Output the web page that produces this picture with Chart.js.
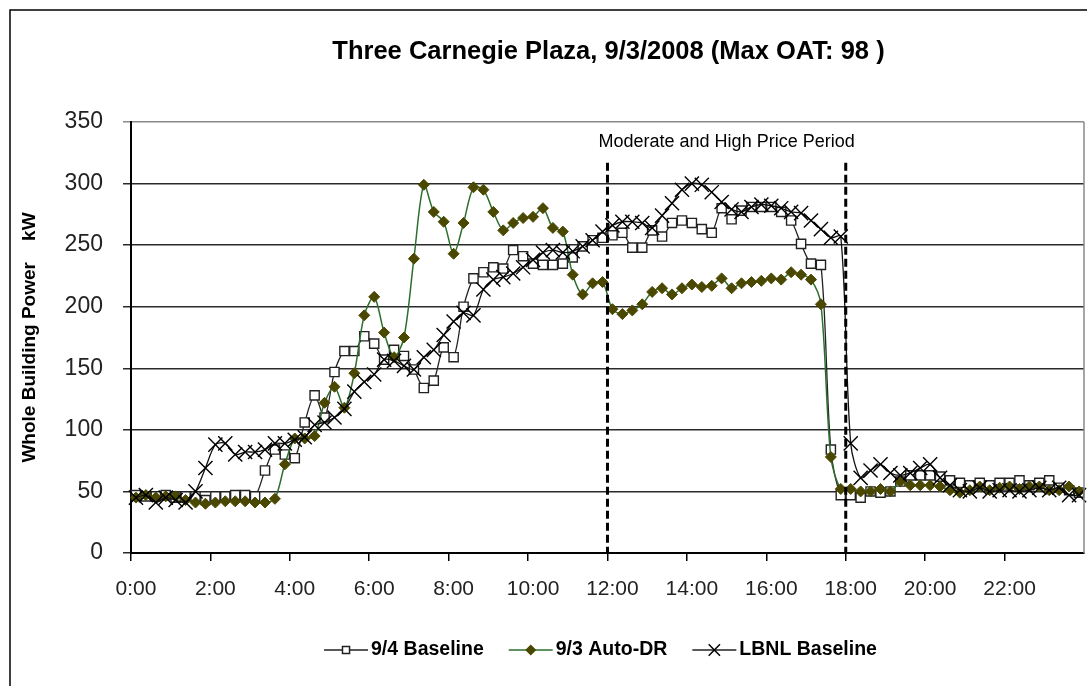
<!DOCTYPE html>
<html>
<head>
<meta charset="utf-8">
<script src="https://cdn.jsdelivr.net/npm/chart.js@4.4.1/dist/chart.umd.min.js"></script>
<style>
    html, body { margin: 0; padding: 0; background: #fff; }
    #wrap { position: relative; width: 1087px; height: 686px; }
</style>
</head>
<body>
<div id="wrap"><canvas id="powerChart"></canvas></div>
<script>
// 15-minute intervals, 0:00 .. 23:45
const timeLabels = [];
for (let h = 0; h < 24; h++) {
    for (let m = 0; m < 60; m += 15) {
        timeLabels.push(h + ':' + (m === 0 ? '00' : m));
    }
}

const baseline94 = [
    47, 46, 46, 47, 45, 46, 46, 43,
    46, 46, 47, 47, 46, 67, 84, 80,
    77, 106, 128, 110, 147, 164, 164, 176,
    170, 157, 165, 160, 149, 134, 140, 167,
    159, 200, 223, 228, 232, 231, 246, 241,
    235, 234, 234, 235, 240, 249, 254, 256,
    258, 260, 248, 248, 262, 257, 268, 270,
    268, 263, 260, 280, 271, 278, 281, 281,
    281, 277, 270, 251, 235, 234, 84, 47,
    47, 45, 50, 49, 50, 58, 63, 63,
    63, 62, 59, 57, 55, 57, 55, 57,
    57, 59, 55, 57, 59, 53, 51, 49
];

const autoDR93 = [
    45, 47, 45, 46, 46, 43, 41, 40,
    41, 42, 42, 42, 41, 41, 44, 72,
    93, 93, 95, 122, 135, 118, 146, 193,
    208, 179, 159, 175, 239, 299, 277, 269,
    243, 268, 297, 295, 277, 262, 268, 272,
    273, 280, 264, 261, 226, 210, 219, 220,
    198, 194, 197, 202, 212, 215, 210, 215,
    218, 216, 217, 223, 215, 219, 220, 221,
    223, 222, 228, 226, 222, 202, 78, 52,
    52, 50, 50, 52, 50, 58, 55, 55,
    55, 54, 51, 49, 51, 54, 51, 53,
    54, 52, 54, 54, 51, 51, 54, 50
];

const lbnlBaseline = [
    45, 47, 41, 45, 43, 41, 50, 69,
    88, 89, 80, 82, 82, 84, 89, 89,
    92, 94, 104, 106, 110, 117, 131, 139,
    145, 157, 156, 152, 149, 159, 165, 177,
    188, 195, 193, 214, 222, 224, 227, 232,
    238, 244, 246, 244, 245, 249, 254, 261,
    266, 269, 269, 268, 264, 274, 284, 295,
    300, 299, 293, 285, 279, 277, 281, 283,
    282, 280, 277, 276, 270, 263, 256, 257,
    89, 61, 67, 72, 65, 63, 65, 69,
    72, 61, 55, 51, 50, 53, 50, 51,
    51, 50, 51, 53, 51, 53, 47, 47
];

const yTicks = [0, 50, 100, 150, 200, 250, 300, 350];
const priceWindow = ['12:00', '18:00'];   // moderate & high price period
const priceLineTop = 317;                 // kW where dashed lines start
const priceTextAt = 334;                  // kW for the label

const FONT = 'Arial, "Liberation Sans", Helvetica, sans-serif';
Chart.defaults.font.family = FONT;

// the x labels in the original are a narrow face; use one if present
function hasNarrow() {
    const c = document.createElement('canvas').getContext('2d');
    c.font = '40px "Liberation Sans Narrow", monospace';
    const a = c.measureText('12:00 Baseline').width;
    c.font = '40px monospace';
    return a !== c.measureText('12:00 Baseline').width;
}
const xFont = hasNarrow()
    ? { family: '"Liberation Sans Narrow", ' + FONT, size: 24 }
    : { family: FONT, size: 21 };

const legendItems = [
    { text: '9/4 Baseline', line: '#222', style: 'rect', radius: 5, fill: '#fff', stroke: '#222' },
    { text: '9/3 Auto-DR', line: '#2d6e2d', style: 'rectRot', radius: 4.5, fill: '#4a4800', stroke: '#4a4800' },
    { text: 'LBNL Baseline', line: '#222', style: 'crossRot', radius: 8, fill: '#000', stroke: '#000' }
];

const extrasPlugin = {
    id: 'extras',
    beforeDraw(chart) {
        const ctx = chart.ctx;
        ctx.save();
        ctx.strokeStyle = '#000';
        ctx.lineWidth = 1.5;
        ctx.strokeRect(10, 10, chart.width + 50, chart.height + 50);
        ctx.restore();
    },
    afterDatasetsDraw(chart) {
        const { ctx, chartArea, scales: { x, y } } = chart;
        ctx.save();

        // plot area right border
        ctx.strokeStyle = '#8a8a8a';
        ctx.lineWidth = 1.5;
        ctx.beginPath();
        ctx.moveTo(chartArea.right, chartArea.top);
        ctx.lineTo(chartArea.right, chartArea.bottom);
        ctx.stroke();

        // dashed price period lines
        const xs = priceWindow.map(lbl => {
            const i = timeLabels.indexOf(lbl);
            return (x.getPixelForValue(i - 1) + x.getPixelForValue(i)) / 2;
        });
        ctx.strokeStyle = '#000';
        ctx.lineWidth = 3;
        ctx.setLineDash([8, 4]);
        xs.forEach(px => {
            ctx.beginPath();
            ctx.moveTo(px, y.getPixelForValue(priceLineTop));
            ctx.lineTo(px, y.getPixelForValue(0));
            ctx.stroke();
        });
        ctx.setLineDash([]);

        ctx.fillStyle = '#000';
        ctx.font = '18px ' + FONT;
        ctx.textAlign = 'center';
        ctx.textBaseline = 'middle';
        ctx.fillText('Moderate and High Price Period', (xs[0] + xs[1]) / 2, y.getPixelForValue(priceTextAt));

        // title, centred over the plot area
        ctx.font = 'bold 25.5px ' + FONT;
        ctx.fillText('Three Carnegie Plaza, 9/3/2008 (Max OAT: 98 )', (chartArea.left + chartArea.right) / 2 + 1, 52);

        // legend
        ctx.font = 'bold 19.5px ' + FONT;
        const lineLen = 44, gapText = 3, gapItem = 25;
        let total = 0;
        legendItems.forEach((it, k) => {
            total += lineLen + gapText + ctx.measureText(it.text).width + (k ? gapItem : 0);
        });
        let lx = (chartArea.left + chartArea.right) / 2 - 7 - total / 2;
        const ly = 650;
        legendItems.forEach(it => {
            ctx.strokeStyle = it.line;
            ctx.lineWidth = 1.5;
            ctx.beginPath();
            ctx.moveTo(lx, ly);
            ctx.lineTo(lx + lineLen, ly);
            ctx.stroke();
            ctx.fillStyle = it.fill;
            ctx.strokeStyle = it.stroke;
            Chart.helpers.drawPoint(ctx, { pointStyle: it.style, radius: it.radius, borderWidth: 1.5, rotation: 0 }, lx + lineLen / 2, ly);
            ctx.fillStyle = '#000';
            ctx.textAlign = 'left';
            ctx.fillText(it.text, lx + lineLen + gapText, ly);
            lx += lineLen + gapText + ctx.measureText(it.text).width + gapItem;
        });

        ctx.restore();
    }
};

new Chart(document.getElementById('powerChart').getContext('2d'), {
    type: 'line',
    data: {
        labels: timeLabels,
        datasets: [
            {
                label: '9/4 Baseline',
                data: baseline94,
                borderColor: '#222',
                borderWidth: 1.3,
                tension: 0.3,
                pointStyle: 'rect',
                pointRadius: 6.5,
                pointBackgroundColor: '#fff',
                pointBorderColor: '#222',
                pointBorderWidth: 1.4,
                order: 2
            },
            {
                label: '9/3 Auto-DR',
                data: autoDR93,
                borderColor: '#2d6e2d',
                borderWidth: 1.5,
                tension: 0.3,
                pointStyle: 'rectRot',
                pointRadius: 5.5,
                pointBackgroundColor: '#4a4800',
                pointBorderColor: '#4a4800',
                pointBorderWidth: 1,
                order: 1
            },
            {
                label: 'LBNL Baseline',
                data: lbnlBaseline,
                borderColor: '#111',
                borderWidth: 1.3,
                tension: 0.3,
                pointStyle: 'crossRot',
                pointRadius: 10,
                pointBorderColor: '#000',
                pointBorderWidth: 1.4,
                order: 0
            }
        ]
    },
    options: {
        responsive: true,
        maintainAspectRatio: false,
        animation: false,
        layout: {
            autoPadding: false,
            padding: { left: 15, right: 3, top: 122, bottom: 69 }
        },
        plugins: {
            legend: { display: false },
            tooltip: { enabled: false }
        },
        scales: {
            x: {
                offset: true,
                afterFit: s => { s.paddingLeft = 0; s.paddingRight = 0; },
                grid: {
                    offset: true,
                    drawOnChartArea: false,
                    tickLength: 8,
                    lineWidth: 1.5,
                    color: ctx => ctx.index % 8 === 0 ? '#000' : 'rgba(0,0,0,0)'
                },
                border: { color: '#000', width: 2 },
                ticks: {
                    autoSkip: false,
                    maxRotation: 0,
                    minRotation: 0,
                    padding: 15.4,
                    color: '#222',
                    font: xFont,
                    callback: (v, i) => i % 8 === 0 ? timeLabels[i] : ''
                }
            },
            y: {
                min: 0,
                max: 350,
                afterBuildTicks: axis => {
                    axis.ticks = yTicks.map(v => ({ value: v }));
                },
                grid: {
                    tickLength: 8,
                    lineWidth: 1.5,
                    color: ctx => ctx.tick && ctx.tick.value === 350 ? '#8a8a8a' : '#2a2a2a'
                },
                border: { color: '#000', width: 2 },
                ticks: {
                    padding: 20,
                    color: '#222',
                    font: { size: 23 }
                },
                title: {
                    display: true,
                    text: 'Whole Building Power    kW',
                    color: '#000',
                    font: { size: 19, weight: 'bold' },
                    padding: { top: 3.6, bottom: 3.2 }
                }
            }
        }
    },
    plugins: [extrasPlugin]
});
</script>
</body>
</html>
